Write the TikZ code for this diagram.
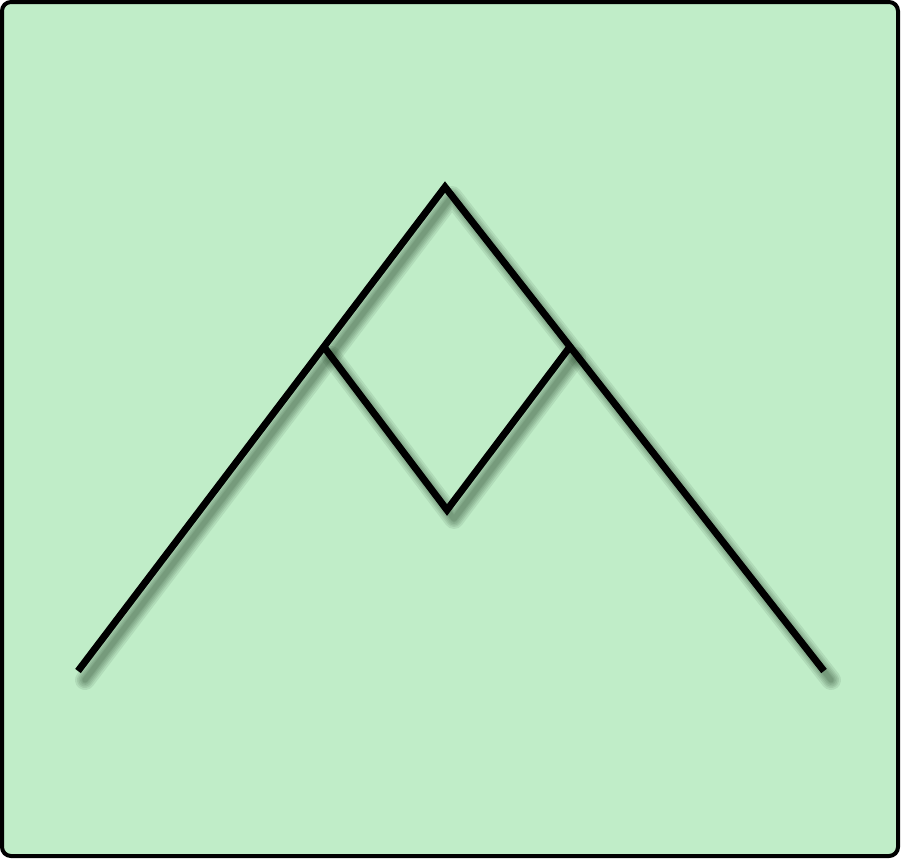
\documentclass[tikz,border=0pt]{standalone}
\definecolor{bgfill}{RGB}{192,237,200}
\definecolor{shade}{RGB}{40,70,45}
\tikzset{
  frame/.style={draw=black, line width=4pt, fill=bgfill, rounded corners=9pt},
  ridge/.style={draw=black, line width=7pt, miter limit=10},
  blurline/.style={draw=shade, line width=#1, opacity=0.10, line join=round, line cap=round}
}
\begin{document}
\begin{tikzpicture}[x=1pt,y=-1pt]
\useasboundingbox (0,0) rectangle (902,860);
\path[frame] (2,2) rectangle (898,856);
\coordinate (L) at (78,671);
\coordinate (P) at (445,187);
\coordinate (R) at (824,671);
\coordinate (A) at (324,347);
\coordinate (B) at (447,510);
\coordinate (C) at (569,348);
% shadows
\begin{scope}[transform canvas={shift={(7pt,-9pt)}}]
\foreach \w in {20,16,13,10,7,5}{
  \draw[blurline=\w pt] (L) -- (P) -- (R);
  \draw[blurline=\w pt] (A) -- (B) -- (C);
}
\end{scope}
% lines
\draw[ridge] (L) -- (P) -- (R);
\draw[ridge] (A) -- (B) -- (C);
\end{tikzpicture}
\end{document}
